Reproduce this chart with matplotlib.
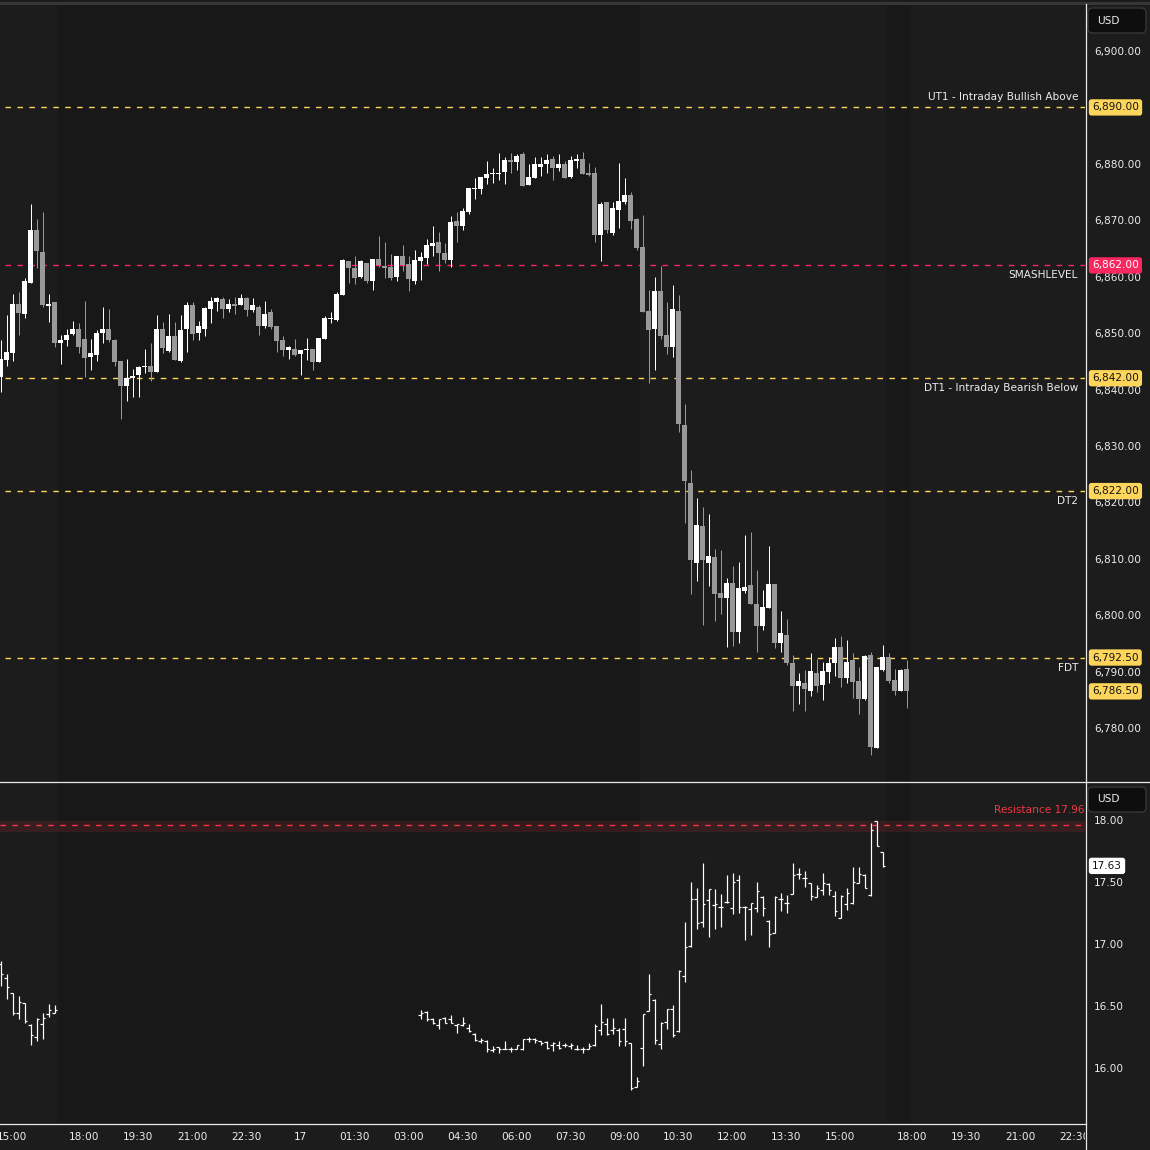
import numpy as np
import matplotlib.pyplot as plt
from matplotlib.lines import Line2D
from matplotlib.patches import FancyBboxPatch

# ---- data (10-minute bars, slot 0 = 15:00 on the 16th) ----
es_first_slot = -2
es_open = [6842.3, 6845.2, 6846.5, 6855.2, 6853.3, 6858.8, 6868.3, 6864.4, 6854.8, 6855.5,
           6848.3, 6848.7, 6849.9, 6850.7, 6848.9, 6845.8, 6846.2, 6850.1, 6850.7, 6848.8,
           6845.1, 6840.7, 6842.0, 6842.6, 6844.0, 6844.2, 6843.1, 6850.7, 6846.9, 6849.5,
           6845.1, 6850.7, 6855.0, 6850.0, 6850.7, 6854.3, 6855.5, 6856.0, 6854.3, 6855.2,
           6855.0, 6856.2, 6854.1, 6854.6, 6851.3, 6853.7, 6851.3, 6848.8, 6847.0, 6847.2,
           6846.3, 6847.0, 6847.2, 6844.9, 6849.0, 6852.5, 6852.3, 6856.8, 6862.8, 6861.5,
           6859.9, 6862.4, 6859.2, 6863.1, 6861.9, 6861.7, 6859.9, 6863.7, 6862.3, 6859.2,
           6862.8, 6863.3, 6865.4, 6866.2, 6864.2, 6863.0, 6869.9, 6869.0, 6871.5, 6875.5,
           6875.5, 6877.5, 6878.2, 6878.2, 6878.6, 6880.7, 6880.3, 6881.7, 6876.3, 6877.5,
           6879.4, 6880.0, 6880.9, 6879.3, 6880.0, 6877.7, 6880.5, 6880.9, 6878.4, 6878.4,
           6867.3, 6873.2, 6867.8, 6871.9, 6873.2, 6874.5, 6870.2, 6865.3, 6853.9, 6850.8,
           6857.5, 6849.7, 6847.6, 6853.9, 6833.7, 6823.4, 6809.3, 6815.8, 6809.3, 6810.3,
           6803.9, 6803.1, 6805.7, 6797.1, 6804.3, 6805.4, 6802.0, 6798.0, 6801.3, 6805.5,
           6795.1, 6796.5, 6791.6, 6787.5, 6788.0, 6786.6, 6789.8, 6787.7, 6790.0, 6791.6,
           6794.4, 6788.9, 6792.1, 6788.3, 6785.2, 6792.9, 6776.5, 6790.3, 6792.6, 6788.5,
           6786.5, 6790.5]
es_high = [6848.8, 6853.2, 6856.9, 6857.3, 6859.7, 6872.9, 6870.2, 6871.5, 6856.9, 6855.5,
           6849.7, 6850.8, 6852.1, 6851.8, 6855.7, 6848.9, 6850.6, 6854.6, 6854.3, 6848.9,
           6845.1, 6845.4, 6843.6, 6844.2, 6847.2, 6848.2, 6853.2, 6852.0, 6853.4, 6852.0,
           6853.2, 6855.5, 6855.5, 6852.1, 6854.6, 6856.4, 6856.4, 6856.4, 6856.0, 6856.4,
           6856.9, 6856.4, 6856.2, 6855.0, 6855.7, 6854.3, 6851.3, 6849.5, 6847.7, 6848.9,
           6847.0, 6849.1, 6847.2, 6849.1, 6853.0, 6853.7, 6857.3, 6863.1, 6862.8, 6863.7,
           6863.0, 6862.4, 6863.1, 6867.2, 6866.2, 6864.0, 6863.7, 6865.6, 6863.7, 6864.7,
           6864.4, 6866.7, 6869.0, 6867.9, 6866.0, 6870.8, 6871.5, 6872.2, 6875.7, 6877.5,
           6877.7, 6880.5, 6879.3, 6881.9, 6881.2, 6881.9, 6881.7, 6882.1, 6880.0, 6881.2,
           6881.2, 6881.7, 6881.4, 6881.7, 6880.5, 6881.4, 6881.7, 6882.1, 6880.2, 6879.4,
           6873.2, 6873.2, 6873.2, 6880.2, 6877.5, 6875.0, 6870.4, 6870.9, 6857.6, 6859.9,
           6861.9, 6855.5, 6858.5, 6856.8, 6837.4, 6825.7, 6820.8, 6819.2, 6817.9, 6811.7,
           6811.6, 6806.6, 6808.7, 6809.4, 6814.2, 6814.7, 6808.0, 6804.5, 6812.3, 6805.5,
           6800.7, 6799.3, 6792.9, 6789.8, 6790.3, 6793.3, 6792.2, 6791.7, 6792.6, 6796.0,
           6796.3, 6795.6, 6793.3, 6790.8, 6792.9, 6793.5, 6790.8, 6794.7, 6793.3, 6790.5,
           6790.5, 6792.1]
es_low = [6839.6, 6844.2, 6845.1, 6849.7, 6852.7, 6858.8, 6861.6, 6854.7, 6851.9, 6847.6,
          6844.6, 6847.8, 6849.7, 6846.5, 6842.3, 6843.5, 6845.1, 6848.3, 6848.5, 6844.2,
          6834.8, 6837.9, 6838.7, 6838.6, 6843.0, 6841.5, 6843.1, 6846.4, 6846.7, 6845.3,
          6844.9, 6846.6, 6848.8, 6848.8, 6849.5, 6851.8, 6853.9, 6852.7, 6853.7, 6853.4,
          6855.0, 6853.0, 6853.7, 6849.7, 6850.9, 6850.7, 6846.6, 6846.0, 6845.4, 6846.0,
          6842.5, 6845.2, 6843.5, 6844.8, 6849.0, 6851.8, 6852.2, 6856.8, 6858.9, 6858.7,
          6859.8, 6858.9, 6857.6, 6861.7, 6859.8, 6859.4, 6859.2, 6861.0, 6857.5, 6858.7,
          6859.4, 6862.3, 6863.7, 6861.0, 6862.4, 6861.7, 6866.2, 6868.3, 6871.1, 6873.8,
          6874.7, 6876.4, 6876.6, 6877.1, 6876.4, 6878.4, 6878.9, 6876.1, 6876.3, 6877.5,
          6877.8, 6878.4, 6877.1, 6878.7, 6877.5, 6877.5, 6879.3, 6878.2, 6877.8, 6866.2,
          6862.8, 6867.8, 6867.4, 6868.7, 6872.9, 6868.5, 6864.8, 6853.8, 6841.2, 6843.5,
          6849.0, 6846.3, 6845.8, 6832.4, 6816.4, 6803.8, 6806.1, 6798.3, 6805.1, 6798.9,
          6800.3, 6794.4, 6794.6, 6795.1, 6804.0, 6801.9, 6793.4, 6797.3, 6801.3, 6794.1,
          6793.4, 6791.1, 6783.1, 6784.3, 6783.1, 6785.6, 6786.3, 6785.0, 6788.0, 6789.3,
          6787.2, 6788.0, 6785.4, 6782.4, 6784.9, 6775.3, 6776.5, 6790.1, 6788.0, 6785.9,
          6786.5, 6783.6]
es_close = [6845.4, 6846.6, 6855.2, 6853.6, 6859.2, 6868.3, 6864.6, 6854.9, 6855.2, 6848.3,
            6848.8, 6849.7, 6850.7, 6847.6, 6845.6, 6846.4, 6850.0, 6850.7, 6848.8, 6844.9,
            6840.7, 6842.0, 6842.4, 6844.0, 6844.2, 6843.1, 6850.7, 6847.4, 6849.5, 6845.3,
            6850.6, 6855.0, 6849.9, 6851.3, 6854.4, 6855.7, 6856.2, 6854.3, 6855.2, 6854.8,
            6856.2, 6854.1, 6855.0, 6851.3, 6853.4, 6851.1, 6848.6, 6847.0, 6847.5, 6846.1,
            6847.0, 6847.2, 6844.9, 6849.1, 6852.7, 6852.7, 6856.9, 6863.0, 6861.5, 6859.8,
            6862.8, 6859.2, 6863.1, 6862.1, 6861.5, 6859.8, 6863.7, 6862.1, 6859.6, 6863.0,
            6863.5, 6865.6, 6865.9, 6864.2, 6863.0, 6869.7, 6869.0, 6871.6, 6875.7, 6875.7,
            6877.7, 6878.2, 6878.4, 6878.4, 6880.7, 6880.3, 6881.4, 6876.1, 6877.7, 6880.0,
            6880.0, 6880.7, 6879.3, 6880.0, 6877.5, 6880.7, 6880.9, 6878.2, 6878.0, 6867.3,
            6872.9, 6868.2, 6872.2, 6873.4, 6874.5, 6869.8, 6865.1, 6853.8, 6850.6, 6857.5,
            6849.4, 6847.6, 6854.3, 6833.9, 6823.7, 6809.7, 6816.0, 6809.7, 6810.5, 6803.8,
            6803.1, 6805.7, 6797.1, 6804.8, 6805.0, 6801.9, 6798.1, 6801.5, 6805.5, 6795.1,
            6796.8, 6791.6, 6787.5, 6788.3, 6787.0, 6790.1, 6787.5, 6790.1, 6791.5, 6794.4,
            6788.8, 6791.7, 6788.2, 6785.2, 6792.8, 6776.7, 6790.8, 6792.6, 6788.4, 6786.6,
            6790.3, 6786.5]

# VIX bars: two sessions (afternoon of the 16th, then from 03:20 on the 17th)
vix_first_slots = [-2, 68]
vix_open = [[16.84, 16.726, 16.602, 16.44, 16.522, 16.35, 16.253, 16.355, 16.436, 16.446],
            [16.43, 16.452, 16.398, 16.35, 16.403, 16.392, 16.35, 16.35, 16.323, 16.274,
             16.22, 16.22, 16.145, 16.167, 16.151, 16.151, 16.156, 16.151, 16.231, 16.236,
             16.215, 16.21, 16.183, 16.183, 16.183, 16.177, 16.151, 16.151, 16.156, 16.186,
             16.307, 16.355, 16.307, 16.307, 16.312, 16.199, 15.844, 16.159, 16.457, 16.549,
             16.191, 16.371, 16.473, 16.298, 16.742, 16.984, 17.363, 17.178, 17.355, 17.312,
             17.301, 17.336, 17.288, 17.516, 17.301, 17.285, 17.288, 17.382, 17.188, 17.086,
             17.366, 17.328, 17.401, 17.565, 17.53, 17.489, 17.382, 17.436, 17.484, 17.387,
             17.212, 17.32, 17.328, 17.489, 17.556, 17.395, 17.989, 17.739]]
vix_high = [[16.866, 16.758, 16.608, 16.581, 16.527, 16.355, 16.403, 16.446, 16.516, 16.505],
            [16.468, 16.462, 16.403, 16.392, 16.409, 16.425, 16.355, 16.409, 16.355, 16.279,
             16.242, 16.226, 16.177, 16.172, 16.215, 16.167, 16.188, 16.231, 16.253, 16.242,
             16.22, 16.215, 16.21, 16.22, 16.204, 16.199, 16.183, 16.172, 16.204, 16.355,
             16.516, 16.401, 16.401, 16.32, 16.401, 16.199, 15.925, 16.433, 16.758, 16.554,
             16.371, 16.476, 16.505, 16.79, 17.178, 17.503, 17.454, 17.656, 17.441, 17.441,
             17.403, 17.556, 17.57, 17.556, 17.306, 17.328, 17.5, 17.387, 17.193, 17.387,
             17.414, 17.395, 17.65, 17.61, 17.591, 17.489, 17.473, 17.57, 17.489, 17.428,
             17.392, 17.449, 17.618, 17.624, 17.565, 17.973, 17.992, 17.739]]
vix_low = [[16.664, 16.559, 16.43, 16.398, 16.36, 16.188, 16.22, 16.237, 16.414, 16.441],
           [16.392, 16.376, 16.355, 16.317, 16.36, 16.36, 16.285, 16.339, 16.29, 16.22,
            16.204, 16.129, 16.129, 16.118, 16.151, 16.129, 16.151, 16.145, 16.21, 16.199,
            16.183, 16.151, 16.14, 16.156, 16.167, 16.151, 16.145, 16.118, 16.151, 16.18,
            16.264, 16.266, 16.274, 16.18, 16.18, 15.823, 15.844, 16.019, 16.457, 16.191,
            16.151, 16.312, 16.248, 16.288, 16.696, 16.978, 17.124, 17.14, 17.059, 17.121,
            17.137, 17.334, 17.242, 17.253, 17.032, 17.075, 17.258, 17.229, 16.978, 17.086,
            17.269, 17.253, 17.401, 17.522, 17.457, 17.355, 17.376, 17.395, 17.395, 17.229,
            17.207, 17.274, 17.323, 17.489, 17.449, 17.39, 17.79, 17.618]]
vix_close = [[16.758, 16.651, 16.441, 16.532, 16.382, 16.263, 16.398, 16.403, 16.468, 16.468],
             [16.441, 16.398, 16.36, 16.392, 16.366, 16.366, 16.355, 16.36, 16.296, 16.226,
              16.226, 16.151, 16.156, 16.156, 16.151, 16.156, 16.183, 16.231, 16.236, 16.226,
              16.204, 16.161, 16.199, 16.161, 16.183, 16.183, 16.156, 16.151, 16.177, 16.342,
              16.374, 16.274, 16.32, 16.221, 16.221, 15.836, 15.898, 16.433, 16.597, 16.226,
              16.366, 16.473, 16.264, 16.785, 16.979, 17.363, 17.172, 17.32, 17.441, 17.323,
              17.301, 17.336, 17.503, 17.296, 17.301, 17.328, 17.428, 17.288, 17.081, 17.382,
              17.36, 17.328, 17.556, 17.565, 17.53, 17.39, 17.449, 17.489, 17.436, 17.266,
              17.387, 17.409, 17.503, 17.562, 17.449, 17.919, 17.79, 17.63]]

levels = [6890.0, 6862.0, 6842.0, 6822.0, 6792.5]
level_names = ["UT1 - Intraday Bullish Above", "SMASHLEVEL", "DT1 - Intraday Bearish Below", "DT2", "FDT"]
level_above = [True, False, False, False, False]
last_price = 6786.5
vix_last = 17.63
resistance = 17.96
resistance_band = (17.90, 17.99)

price_ticks = [6780, 6790, 6800, 6810, 6820, 6830, 6840, 6850, 6860, 6870, 6880, 6900]
vix_ticks = [16.0, 16.5, 17.0, 17.5, 18.0]
time_slots = [0, 12, 21, 30, 39, 48, 57, 66, 75, 84, 93, 102, 111, 120, 129, 138, 150, 159, 168, 177]
time_labels = ["15:00", "18:00", "19:30", "21:00", "22:30", "17", "01:30", "03:00", "04:30", "06:00",
               "07:30", "09:00", "10:30", "12:00", "13:30", "15:00", "18:00", "19:30", "21:00", "22:30"]
eth_spans = [(7.5, 104.5), (145.5, 149.5)]

# ---- styling ----
BG = "#1c1c1c"
ETH_BG = "#181818"
TXT = "#ececec"
UP = "#ffffff"
DOWN = "#999999"
YEL = "#fdd55a"
PINK = "#f7285f"
RED = "#f23645"
FS = 7.6
PX = 0.72  # one pixel in points at dpi 100
DASH = (0, (4.0, 4.6))

W, H = 1150, 1150
fig = plt.figure(figsize=(W / 100, H / 100), dpi=100, facecolor=BG)


def px_box(x0, y0, x1, y1):
    return [x0 / W, 1 - y1 / H, (x1 - x0) / W, (y1 - y0) / H]


ax = fig.add_axes(px_box(0, 5, 1085, 781))
axv = fig.add_axes(px_box(0, 782, 1085, 1123))
axt = fig.add_axes(px_box(0, 1123, 1085, 1150))

xlim = (-12.5 / 6, (1085 - 12.5) / 6)
for a in (ax, axv, axt):
    a.set_facecolor(BG)
    a.set_xlim(*xlim)
    for s in a.spines.values():
        s.set_visible(False)
    a.set_xticks([])
for a in (ax, axv):
    for x0, x1 in eth_spans:
        a.axvspan(x0, x1, color=ETH_BG, lw=0, zorder=0)

ax.set_ylim(6900 - 730 / 5.642, 6900 + 46 / 5.642)
axv.set_ylim(18 - 303 / 124, 18 + 38 / 124)
axt.set_ylim(0, 1)
axt.set_yticks([])

# ---- candles ----
o, hi, lo, c = (np.array(v) for v in (es_open, es_high, es_low, es_close))
x = np.arange(len(o)) + es_first_slot
cols = np.where(c >= o, UP, DOWN)
ax.vlines(x, lo, hi, colors=cols, lw=PX, zorder=3)
ax.bar(x, np.maximum(np.abs(c - o), 0.22), bottom=np.minimum(o, c), width=0.8,
       color=cols, lw=0, zorder=4)

# ---- level lines ----
for lvl, name, above in zip(levels, level_names, level_above):
    col = PINK if name == "SMASHLEVEL" else YEL
    ax.axhline(lvl, xmin=5 / 1085, xmax=1, color=col, lw=1.0, ls=DASH, zorder=2)
    ax.annotate(name, xy=(1078 / 1085, lvl), xycoords=ax.get_yaxis_transform(),
                xytext=(0, 7.2 if above else -7.2), textcoords="offset points",
                ha="right", va="center", color=TXT, fontsize=FS, zorder=5)

# ---- price axis ----
ax.yaxis.tick_right()
ax.set_yticks(price_ticks)
ax.set_yticklabels([f"{v:,.2f}" for v in price_ticks])
ax.tick_params(axis="y", length=0, pad=6.5, labelsize=FS, labelcolor=TXT)

box_x = 1092 / 1085
for lvl, name in zip(levels, level_names):
    fc = PINK if name == "SMASHLEVEL" else YEL
    tc = "#ffffff" if name == "SMASHLEVEL" else "#131313"
    ax.text(box_x, lvl, f"{lvl:,.2f}", transform=ax.get_yaxis_transform(), ha="left", va="center",
            fontsize=FS, color=tc, clip_on=False, zorder=10,
            bbox=dict(boxstyle="round,pad=0.3,rounding_size=0.25", fc=fc, ec="none"))
ax.text(box_x, last_price, f"{last_price:,.2f}", transform=ax.get_yaxis_transform(), ha="left",
        va="center", fontsize=FS, color="#131313", clip_on=False, zorder=10,
        bbox=dict(boxstyle="round,pad=0.3,rounding_size=0.25", fc=YEL, ec="none"))

# ---- VIX bars ----
for start, vo, vh, vl, vc in zip(vix_first_slots, vix_open, vix_high, vix_low, vix_close):
    vx = np.arange(len(vo)) + start
    axv.vlines(vx, vl, vh, colors=UP, lw=PX * 1.2, zorder=3)
    axv.hlines(vo, vx - 0.45, vx, colors=UP, lw=PX * 1.2, zorder=3)
    axv.hlines(vc, vx, vx + 0.45, colors=UP, lw=PX * 1.2, zorder=3)

axv.axhspan(*resistance_band, color=RED, alpha=0.13, lw=0, zorder=1)
axv.axhline(resistance, color=RED, lw=1.0, ls=DASH, zorder=2)
axv.annotate(f"Resistance {resistance:.2f}", xy=(1084 / 1085, resistance),
             xycoords=axv.get_yaxis_transform(), xytext=(0, 10.8), textcoords="offset points",
             ha="right", va="center", color=RED, fontsize=FS, zorder=5)

axv.yaxis.tick_right()
axv.set_yticks(vix_ticks)
axv.set_yticklabels([f"{v:.2f}" for v in vix_ticks])
axv.tick_params(axis="y", length=0, pad=6.5, labelsize=FS, labelcolor=TXT)
axv.text(box_x, vix_last, f"{vix_last:.2f}", transform=axv.get_yaxis_transform(), ha="left",
         va="center", fontsize=FS, color="#131313", clip_on=False, zorder=10,
         bbox=dict(boxstyle="round,pad=0.3,rounding_size=0.25", fc="#ffffff", ec="none"))

# ---- time axis ----
for s, lab in zip(time_slots, time_labels):
    axt.text(s, 0.48, lab, ha="center", va="center", fontsize=FS, color=TXT, clip_on=True)

# ---- frame lines and currency boxes ----
fig.add_artist(Line2D([0, 1], [1 - 2.5 / H] * 2, color="#363636", lw=2.2))
fig.add_artist(Line2D([1085.5 / W] * 2, [0, 1 - 4 / H], color="#e8e8e8", lw=0.9))
fig.add_artist(Line2D([0, 1], [1 - 781.5 / H] * 2, color="#e8e8e8", lw=0.9))
fig.add_artist(Line2D([0, 1085.5 / W], [1 - 1123.5 / H] * 2, color="#e8e8e8", lw=0.9))
for y0 in (8, 787):
    fig.add_artist(FancyBboxPatch((1088 / W, 1 - (y0 + 25) / H), 58 / W, 25 / H,
                                  boxstyle="round,pad=0,rounding_size=0.004",
                                  transform=fig.transFigure, fc="#0e0e0e", ec="#3a3a3a", lw=0.9))
    fig.text(1097 / W, 1 - (y0 + 12.5) / H, "USD", ha="left", va="center", fontsize=FS, color=TXT)

fig.savefig("out.png", dpi=100, facecolor=BG)
